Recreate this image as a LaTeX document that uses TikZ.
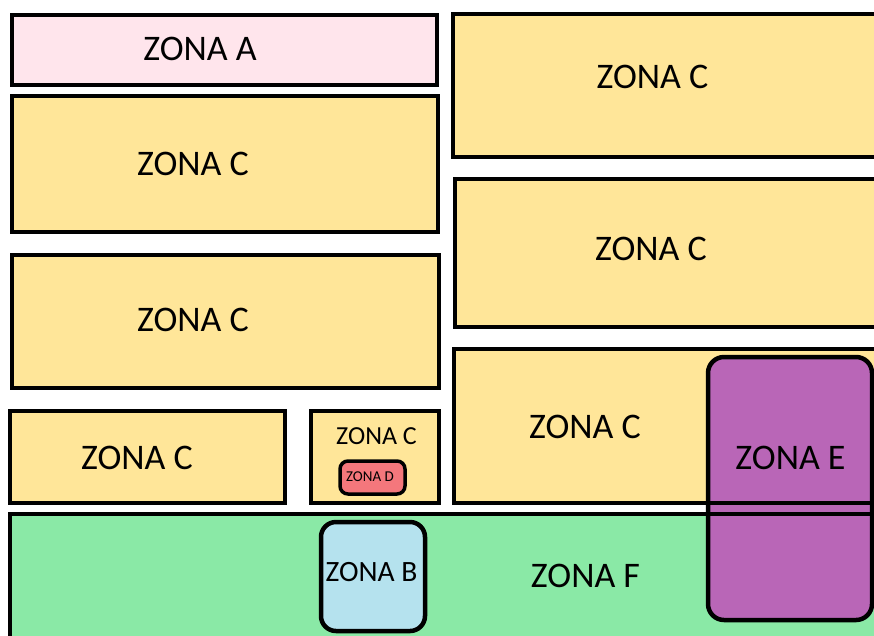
\documentclass[tikz,border=0pt]{standalone}
\usepackage{fontspec}
\setmainfont{Carlito}
\definecolor{zyellow}{HTML}{FFE699}
\definecolor{zpink}{HTML}{FFE5EC}
\definecolor{zgreen}{HTML}{8AE9A6}
\definecolor{zblue}{HTML}{B5E2EE}
\definecolor{zpurple}{HTML}{B966B7}
\definecolor{zred}{HTML}{F4777C}
\begin{document}
\begin{tikzpicture}[x=1pt,y=-1pt,
  zone/.style={draw=black,line width=4.5pt,line join=miter},
  lbl/.style={font=\fontsize{36}{36}\selectfont,inner sep=0pt,anchor=center},
  lblm/.style={font=\fontsize{26}{26}\selectfont,inner sep=0pt,anchor=center},
  lblb/.style={font=\fontsize{29.5}{29.5}\selectfont,inner sep=0pt,anchor=center},
  lbls/.style={font=\fontsize{15}{15}\selectfont,inner sep=0pt,anchor=center}]
\useasboundingbox (0,0) rectangle (874,635);
\begin{scope}
\clip (0,0) rectangle (874,635);
% left column
\draw[zone,fill=zpink] (12,15) rectangle (437,85);
\draw[zone,fill=zyellow] (12,96) rectangle (438,232);
\draw[zone,fill=zyellow] (12,255) rectangle (439,388);
\draw[zone,fill=zyellow] (10,411) rectangle (285,503);
\draw[zone,fill=zyellow] (311,411) rectangle (439,503);
\draw[zone,fill=zred,rounded corners=8pt,line width=3.5pt] (340,461) rectangle (405,494);
% right column
\draw[zone,fill=zyellow] (453,14) rectangle (890,157);
\draw[zone,fill=zyellow] (455,179) rectangle (890,327);
\draw[zone,fill=zyellow] (454,349) rectangle (890,503);
% zone F
\draw[zone,fill=zgreen] (10,514) rectangle (890,650);
% zone B
\draw[zone,fill=zblue,rounded corners=15pt] (321,522) rectangle (425,631);
% zone E
\fill[zpurple,rounded corners=16pt] (708,357) rectangle (872,620);
\begin{scope}
\clip[rounded corners=16pt] (708,357) rectangle (872,620);
\draw[zone] (454,349) rectangle (890,503);
\draw[zone] (10,514) rectangle (890,650);
\end{scope}
\draw[zone,rounded corners=16pt] (708,357) rectangle (872,620);
\end{scope}
% labels
\node[lbl] (la) at (200,49) {ZONA A};
\node[lbl] (lc1) at (193,164) {ZONA C};
\node[lbl] (lc2) at (193,320) {ZONA C};
\node[lbl] (lc3) at (137,458) {ZONA C};
\node[lblm] (lc4) at (376.5,436) {ZONA C};
\node[lbls] (ld) at (370,477) {ZONA D};
\node[lbl] (rc1) at (652.5,77) {ZONA C};
\node[lbl] (rc2) at (651,249) {ZONA C};
\node[lbl] (rc3) at (585,427) {ZONA C};
\node[lbl] (le) at (790.5,458) {ZONA E};
\node[lbl] (lf) at (585.5,576) {ZONA F};
\node[lblb] (lb) at (371.5,572) {ZONA B};
\end{tikzpicture}
\end{document}
